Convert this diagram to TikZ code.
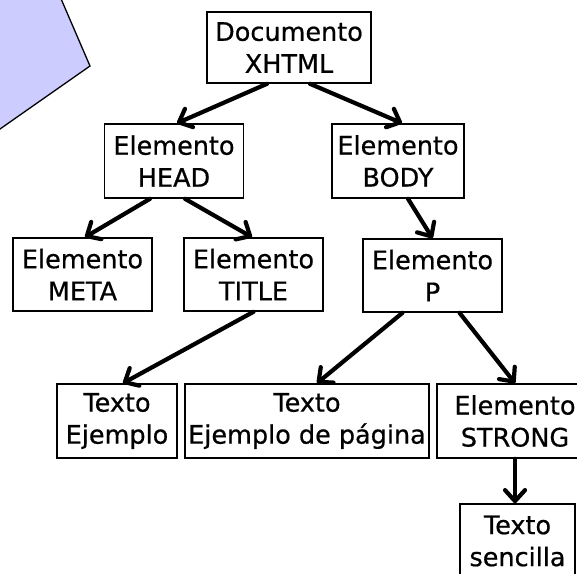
\documentclass[tikz,border=0pt]{standalone}
\usepackage{fontspec}
\setmainfont{DejaVu Sans}[FakeBold=0.6]
\usetikzlibrary{arrows.meta}
\definecolor{lav}{HTML}{CCCCFF}
\tikzset{
  box/.style={draw, line width=1.6pt, fill=white, align=center, inner sep=0pt,
    font=\fontsize{25.5}{32}\selectfont, minimum height=73pt},
  arr/.style={line width=4.2pt, line cap=round, -{Straight Barb[length=11pt,width=20pt,round]}}
}
\begin{document}
\begin{tikzpicture}[x=1pt,y=-1pt]
\useasboundingbox (0,0) rectangle (577,573);
\fill[lav, draw=black, line width=1.3pt] (40,-50) -- (90,66) -- (-60,171) -- (-200,171) -- (-200,-50) -- cycle;

\node[box, minimum width=164pt, minimum height=71pt] (doc) at (289,47.5) {Documento\\XHTML};
\node[box, minimum width=139pt, minimum height=74pt] (head) at (174,161) {Elemento\\HEAD};
\node[box, minimum width=132pt, minimum height=74pt] (body) at (398,161) {Elemento\\BODY};
\node[box, minimum width=139pt] (meta) at (82.5,274.5) {Elemento\\META};
\node[box, minimum width=139pt] (title) at (253.5,274.5) {Elemento\\TITLE};
\node[box, minimum width=139pt] (p) at (432.5,275.5) {Elemento\\P};
\node[box, minimum width=120pt, minimum height=74pt] (txej) at (117,421) {Texto\\Ejemplo};
\node[box, minimum width=244pt, minimum height=74pt] (txpag) at (307,421) {Texto\\Ejemplo de página};
\node[box, minimum width=156pt, minimum height=74pt] (strong) at (515,421) {Elemento\\STRONG};
\node[box, minimum width=115pt, minimum height=74pt] (senc) at (517.5,541) {Texto\\sencilla};

\draw[arr] ([xshift=-22pt]doc.south) -- ([xshift=3pt]head.north);
\draw[arr] ([xshift=21pt]doc.south) -- ([xshift=4pt]body.north);
\draw[arr] ([xshift=-24pt]head.south) -- ([xshift=2.5pt]meta.north);
\draw[arr] ([xshift=11pt]head.south) -- ([xshift=-1.5pt]title.north);
\draw[arr] ([xshift=10pt]body.south) -- (p.north);
\draw[arr] (title.south) -- ([xshift=6pt]txej.north);
\draw[arr] ([xshift=-30pt]p.south) -- ([xshift=10pt]txpag.north);
\draw[arr] ([xshift=27pt]p.south) -- (strong.north);
\draw[arr] (strong.south) -- ([xshift=-2.5pt]senc.north);
\end{tikzpicture}
\end{document}
